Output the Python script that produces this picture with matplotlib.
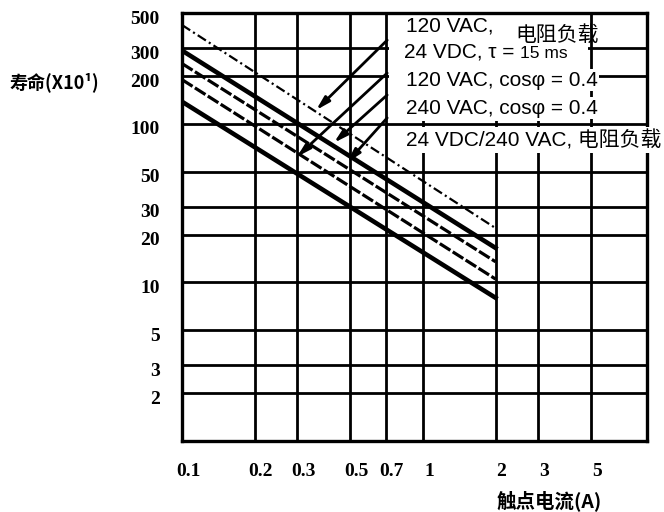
import matplotlib
matplotlib.use('Agg')
import matplotlib.pyplot as plt
from matplotlib.patches import Rectangle
from matplotlib.transforms import ScaledTranslation

plt.rcParams['lines.scale_dashes'] = False

# Contact current (A) vs. life (x10^4 operations)
x_ticks = [0.1, 0.2, 0.3, 0.5, 0.7, 1, 2, 3, 5]
x_tick_labels = ['0.1', '0.2', '0.3', '0.5', '0.7', '1', '2', '3', '5']
y_ticks = [2, 3, 5, 10, 20, 30, 50, 100, 200, 300, 500]

current = [0.1, 2.0]
life_120vac_res = [420, 22]
life_24vdc_tau = [290, 16.5]
life_120vac_cos = [240, 13.5]
life_240vac_cos = [190, 10.5]
life_24vdc_240vac_res = [138, 8]

# arrows from the label block down to the curves (current, life)
arrow_tail = [(0.71, 337), (0.71, 209), (0.71, 152), (0.71, 109)]
arrow_head = [(0.36, 122), (0.30, 62), (0.427, 76), (0.484, 57)]

sans = ['Liberation Sans', 'Noto Sans CJK SC', 'DejaVu Sans']
cjk = ['Noto Sans CJK SC', 'DejaVu Sans']

fig = plt.figure(figsize=(6.64, 5.12), dpi=100)
ax = fig.add_axes([182 / 664, 71 / 512, 465 / 664, 428 / 512])
ax.set_xscale('log')
ax.set_yscale('log')
ax.set_xlim(0.1, 8.5)
ax.set_ylim(1, 500)
ax.set_xticks(x_ticks)
ax.set_xticklabels(x_tick_labels)
ax.set_yticks(y_ticks)
ax.set_yticklabels([str(v) for v in y_ticks])
ax.xaxis.set_minor_locator(matplotlib.ticker.NullLocator())
ax.yaxis.set_minor_locator(matplotlib.ticker.NullLocator())
ax.tick_params(length=0, labelsize=14, pad=16)
ax.grid(True, color='k', lw=2.0)
for s in ax.spines.values():
    s.set_linewidth(2.4)

for lab in ax.get_xticklabels():
    lab.set_fontfamily('Liberation Serif')
    lab.set_fontweight('bold')
    lab.set_transform(lab.get_transform() + ScaledTranslation(0.06, 0, fig.dpi_scale_trans))
for lab in ax.get_yticklabels():
    lab.set_fontfamily('Liberation Serif')
    lab.set_fontweight('bold')
    lab.set_transform(lab.get_transform() + ScaledTranslation(0, -0.04, fig.dpi_scale_trans))

# life curves
ax.plot(current, life_120vac_res, color='k', lw=1.6, dashes=(7, 2.5, 1.5, 2.5))
ax.plot(current, life_24vdc_tau, color='k', lw=3.3)
ax.plot(current, life_120vac_cos, color='k', lw=2.3, dashes=(9, 2))
ax.plot(current, life_240vac_cos, color='k', lw=2.3, dashes=(9, 2))
ax.plot(current, life_24vdc_240vac_res, color='k', lw=3.3)

# white patch behind the label block (hides the grid there)
ax.add_patch(Rectangle((0.72, 104), 4.85 - 0.72, 500 - 104, facecolor='white',
                       edgecolor='none', zorder=2.2))

for tail, head in zip(arrow_tail, arrow_head):
    ax.annotate('', xy=head, xytext=tail,
                arrowprops=dict(arrowstyle='-|>,head_length=0.8,head_width=0.22',
                                color='k', lw=2.0, shrinkA=0, shrinkB=0),
                zorder=3)

fs = 15
ax.text(0.481, 0.970, '120 VAC,', transform=ax.transAxes, fontsize=fs,
        family=sans, va='center', zorder=4)
ax.text(0.716, 0.950, '电阻负载', transform=ax.transAxes, fontsize=fs,
        family=cjk, va='center', zorder=4)
t2 = ax.text(0.477, 0.896, '24 VDC, τ =', transform=ax.transAxes, fontsize=fs,
             family=sans, va='baseline', zorder=4)
ax.annotate('15 ms', xy=(1, 0.896), xycoords=(t2, ax.transAxes), xytext=(4, 0),
            textcoords='offset points', fontsize=12.5, family=sans,
            va='baseline', zorder=4)
ax.text(0.481, 0.843, '120 VAC, cosφ = 0.4', transform=ax.transAxes, fontsize=fs,
        family=sans, va='center', zorder=4,
        bbox=dict(facecolor='white', edgecolor='none', pad=1))
ax.text(0.481, 0.778, '240 VAC, cosφ = 0.4', transform=ax.transAxes, fontsize=fs,
        family=sans, va='center', zorder=4,
        bbox=dict(facecolor='white', edgecolor='none', pad=1))
ax.text(0.481, 0.703, '24 VDC/240 VAC, 电阻负载', transform=ax.transAxes, fontsize=fs,
        family=sans, va='center', zorder=4,
        bbox=dict(facecolor='white', edgecolor='none', pad=2))

fig.text(10 / 664, 1 - 82 / 512, '寿命(X10¹)', fontsize=13, fontweight='bold',
         family=cjk, va='center')
fig.text(497 / 664, 1 - 501 / 512, '触点电流(A)', fontsize=14, fontweight='bold',
         family=cjk, va='center')

fig.savefig('out.png', dpi=100)
